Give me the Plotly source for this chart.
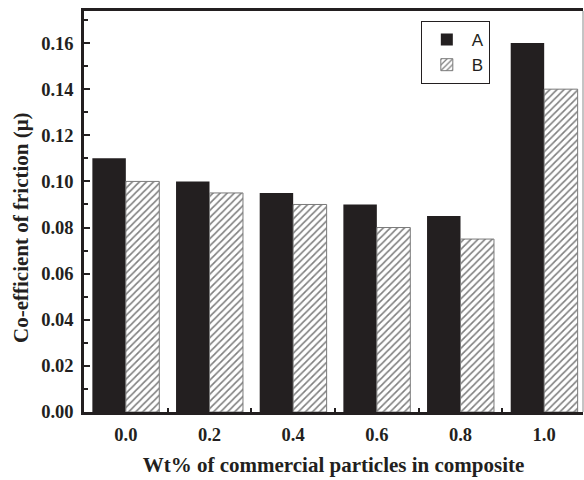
import plotly.graph_objects as go

# Friction coefficient for two composite series vs. particle content
wt_labels = ["0.0", "0.2", "0.4", "0.6", "0.8", "1.0"]
series_a = [0.110, 0.100, 0.095, 0.090, 0.085, 0.160]
series_b = [0.100, 0.095, 0.090, 0.080, 0.075, 0.140]

INK = "#231f20"
serif_bold = "Liberation Serif"

fig = go.Figure()
fig.add_trace(go.Bar(
    x=wt_labels, y=series_a, name="A",
    marker=dict(color=INK, line=dict(color=INK, width=0)),
))
fig.add_trace(go.Bar(
    x=wt_labels, y=series_b, name="B",
    marker=dict(
        color="white",
        line=dict(color="#7a7a7a", width=1),
        pattern=dict(shape="/", fgcolor="#000000", bgcolor="white", size=5, solidity=0.32),
    ),
))

fig.update_layout(
    width=584, height=480,
    margin=dict(l=84, r=1, t=11, b=68),
    paper_bgcolor="white", plot_bgcolor="white",
    barmode="group", bargap=0.2, bargroupgap=0,
    showlegend=True,
    legend=dict(
        x=0.675, y=0.975, xanchor="left", yanchor="top",
        bordercolor=INK, borderwidth=1, bgcolor="white",
        font=dict(family="Liberation Sans", size=17, color=INK),
        tracegroupgap=0, itemwidth=40,
    ),
    font=dict(family=serif_bold, color=INK),
)

fig.update_xaxes(
    type="category", range=[-0.5, 5.464],
    showline=True, linecolor=INK, linewidth=2.5, mirror=True,
    ticks="inside", tickson="boundaries", ticklen=4, tickwidth=2, tickcolor=INK,
    showgrid=False, zeroline=False, ticklabelstandoff=4,
    tickfont=dict(family=serif_bold, size=18.5, color=INK, weight="bold"),
    title=dict(text="Wt% of commercial particles in composite",
               font=dict(family=serif_bold, size=21, color=INK, weight="bold"),
               standoff=14),
)
fig.update_yaxes(
    range=[0, 0.1739], dtick=0.02, tickformat=".2f",
    showline=True, linecolor=INK, linewidth=2.5,
    ticks="inside", ticklen=6, tickwidth=2, tickcolor=INK,
    minor=dict(dtick=0.01, ticks="inside", ticklen=4, tickwidth=2, tickcolor=INK),
    showgrid=False, zeroline=False, ticklabelstandoff=4,
    tickfont=dict(family=serif_bold, size=18.5, color=INK, weight="bold"),
)

# y-axis title, set slightly below the middle of the axis
fig.add_annotation(
    text="<b>Co-efficient of friction (μ)</b>", textangle=-90,
    xref="paper", yref="paper", x=0, y=0.459, xanchor="center", yanchor="middle",
    xshift=-63, showarrow=False,
    font=dict(family=serif_bold, size=21, color=INK),
)

# thin right-hand frame line
fig.add_shape(type="line", xref="paper", yref="paper", x0=1, x1=1, y0=0, y1=1,
              line=dict(color="#8a8a8a", width=1))

fig.write_html("out.html")
